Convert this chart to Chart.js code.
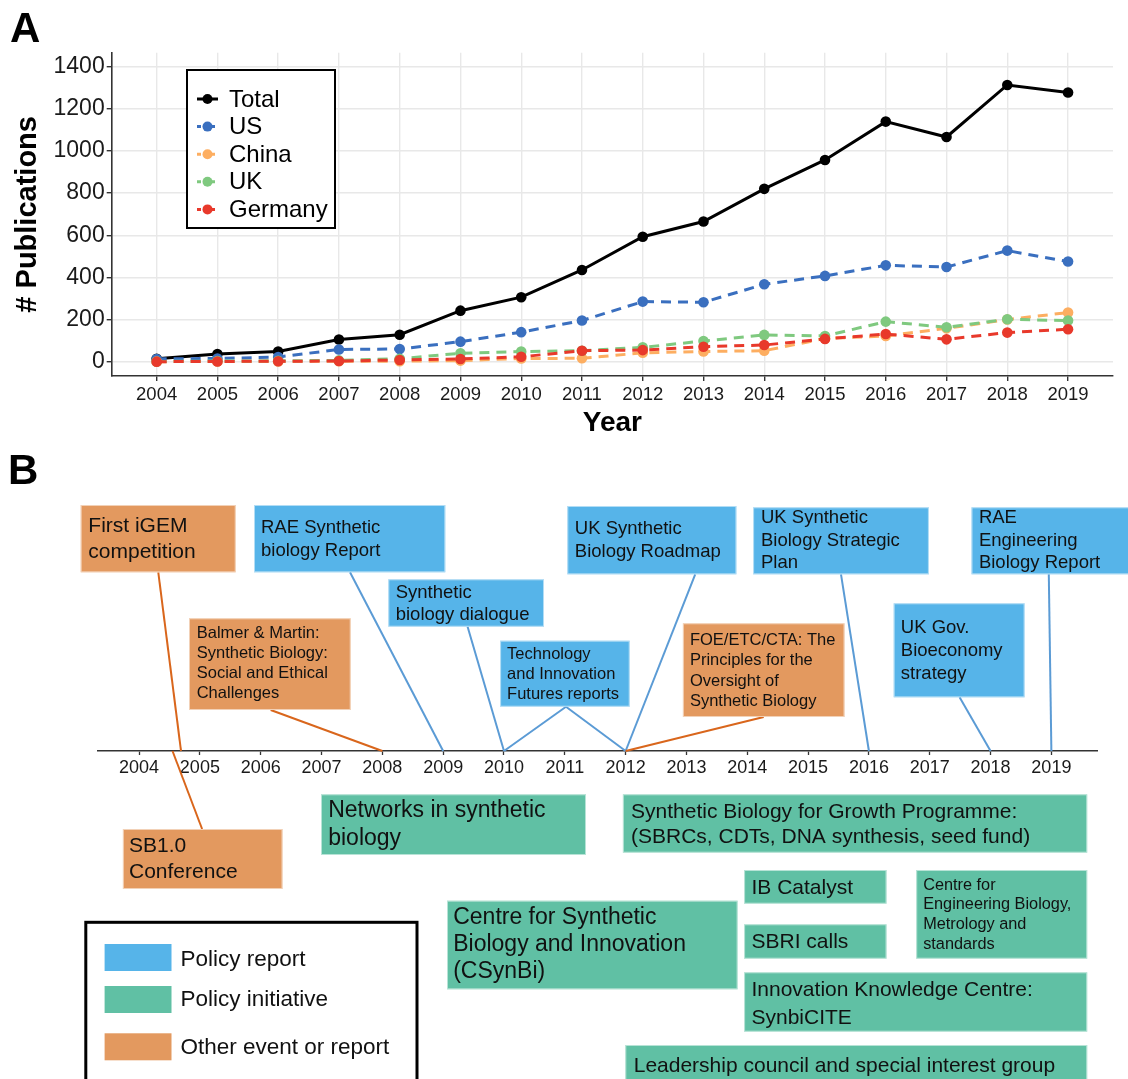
<!DOCTYPE html>
<html>
<head>
<meta charset="utf-8">
<title>Synthetic biology publications and UK policy timeline</title>
<script src="https://cdn.jsdelivr.net/npm/chart.js@4.4.1/dist/chart.umd.min.js"></script>
<style>
  html, body { margin: 0; padding: 0; background: #fff; }
  #wrap { position: relative; width: 1128px; height: 1079px; overflow: hidden; background: #fff; }
  canvas { position: absolute; left: 0; }
  #pubs { top: 0; }
  #timeline { top: 440px; }
</style>
</head>
<body>
<div id="wrap">
  <canvas id="pubs" width="1128" height="440"></canvas>
  <canvas id="timeline" width="1128" height="639"></canvas>
</div>
<script>
// ---------- Panel A data: publications per year ----------
const years = [2004, 2005, 2006, 2007, 2008, 2009, 2010, 2011, 2012, 2013, 2014, 2015, 2016, 2017, 2018, 2019];
const totalPubs   = [14, 36, 48, 105, 128, 242, 306, 435, 593, 665, 820, 957, 1139, 1066, 1313, 1277];
const usPubs      = [13, 15, 22, 58, 60, 95, 140, 195, 285, 282, 367, 407, 457, 449, 527, 475];
const chinaPubs   = [0, 1, 1, 2, 2, 5, 15, 16, 42, 48, 52, 110, 122, 158, 200, 233];
const ukPubs      = [1, 3, 4, 6, 14, 40, 48, 52, 68, 98, 127, 122, 190, 163, 201, 195];
const germanyPubs = [0, 1, 2, 3, 8, 13, 23, 52, 55, 71, 79, 108, 131, 106, 138, 154];
const seriesNames = ['Total', 'US', 'China', 'UK', 'Germany'];
const yTickValues = [0, 200, 400, 600, 800, 1000, 1200, 1400];

// ---------- Panel B data: timeline events ----------
const eventLines = [
  ['First iGEM', 'competition'],
  ['RAE Synthetic', 'biology Report'],
  ['Synthetic', 'biology dialogue'],
  ['Technology', 'and Innovation', 'Futures reports'],
  ['UK Synthetic', 'Biology Roadmap'],
  ['FOE/ETC/CTA: The', 'Principles for the', 'Oversight of', 'Synthetic Biology'],
  ['UK Synthetic', 'Biology Strategic', 'Plan'],
  ['UK Gov.', 'Bioeconomy', 'strategy'],
  ['RAE', 'Engineering', 'Biology Report'],
  ['Balmer & Martin:', 'Synthetic Biology:', 'Social and Ethical', 'Challenges'],
  ['SB1.0', 'Conference'],
  ['Networks in synthetic', 'biology'],
  ['Synthetic Biology for Growth Programme:', '(SBRCs, CDTs, DNA synthesis, seed fund)'],
  ['IB Catalyst'],
  ['SBRI calls'],
  ['Centre for', 'Engineering Biology,', 'Metrology and', 'standards'],
  ['Centre for Synthetic', 'Biology and Innovation', '(CSynBi)'],
  ['Innovation Knowledge Centre:', 'SynbiCITE'],
  ['Leadership council and special interest group']
];
const eventKinds = ['other', 'report', 'report', 'report', 'report', 'other', 'report', 'report', 'report',
                    'other', 'other', 'initiative', 'initiative', 'initiative', 'initiative', 'initiative',
                    'initiative', 'initiative', 'initiative'];
// year(s) on the timeline each event points to
const eventYears = [[2004.69], [2009], [2010], [2010, 2012], [2012], [2012], [2016], [2018], [2019],
                    [2008], [2004.55], [], [], [], [], [], [], [], []];
const timelineYears = years;
const legendKinds  = ['report', 'initiative', 'other'];
const legendLabels = ['Policy report', 'Policy initiative', 'Other event or report'];

// ---------- Styles and layout ----------
const FONT = '"Liberation Sans", Arial, Helvetica, sans-serif';
Chart.defaults.font.family = FONT;

const seriesStyle = [
  { color: '#000000', dash: [],      order: 4 },
  { color: '#3a6fbf', dash: [10, 7], order: 3 },
  { color: '#fdae61', dash: [10, 7], order: 2 },
  { color: '#7fc97f', dash: [10, 7], order: 1 },
  { color: '#e8392b', dash: [10, 7], order: 0 }
];
const kindFill = { report: '#56b4e9', initiative: '#60c0a4', other: '#e3995f' };
const kindLeader = { report: '#5b9bd5', initiative: '#5b9bd5', other: '#d9661c' };

// legend box of panel A
const pubsLegendBox = { x: 187, y: 70, w: 148, h: 158, row0: 99, rowGap: 27.6, lineX0: 197, lineX1: 218, dotX: 207.5, textX: 229 };

// panel B box geometry, page coordinates: [x, y, w, h]
const eventBoxes = [
  [80.7, 505, 155, 67.3], [254, 505, 191.3, 67.3], [388.3, 579.3, 155.7, 47.4], [500.1, 640.7, 129.6, 66],
  [567.3, 506, 169.1, 68.3], [682.9, 623.3, 161.6, 93.7], [753.1, 507.3, 175.8, 67], [893.7, 603.3, 130.9, 94],
  [971.5, 507.3, 160, 67], [189, 618.3, 161.7, 91.7], [122.9, 829, 159.6, 60], [321, 794.3, 265, 60.7],
  [622.9, 794.3, 464.3, 58.4], [744.1, 870, 142.4, 33.7], [744.1, 924.3, 142.4, 34.4], [916.2, 870, 171, 88.7],
  [447, 900.7, 290.6, 88.6], [744.1, 972.3, 343.1, 59.4], [625.3, 1045, 461.9, 50]
];
// text placement: [left x, first line centre y, line gap, font size]
const eventTextPos = [
  [88.3, 526, 26.7, 21], [261, 528.3, 22.7, 18.5], [395.7, 592.7, 22.3, 18.5], [507.1, 654, 20, 16.5],
  [574.8, 529.3, 22.7, 18.5], [689.9, 640.7, 20.2, 16.5], [761, 517.7, 22.8, 18.5], [900.8, 628.3, 23, 18.5],
  [978.9, 517.7, 22.8, 18.5], [196.7, 633.3, 20.2, 16.5], [129, 846.7, 26, 21], [328.2, 810.7, 27.6, 23],
  [631, 812.7, 25, 21], [751.5, 888.3, 0, 21], [751.5, 942.7, 0, 21], [923.2, 885.3, 19.6, 16.3],
  [453.2, 917.7, 27, 23], [751.5, 990.7, 27.6, 21], [633.7, 1066, 0, 21]
];
// where each leader line leaves its box
const leaderStart = [
  [158.3, 572.3], [350, 572.3], [467.6, 626.7], [566, 706.7], [695.2, 574.3], [763.7, 717], [841, 574.3],
  [959.6, 697.3], [1048.8, 574.3], [270.7, 710], [202.1, 829], null, null, null, null, null, null, null, null
];
const timelineLegendBox = { x: 85.8, y: 922.3, w: 331.2, h: 180, swX: 104.6, swW: 66.9,
  swY: [944, 986, 1033.3], swH: 27, textX: 180.4, textY: [959.3, 999.3, 1047.7], size: 22.5 };
const PANEL_B_TOP = 440;
const TIMELINE_AXIS_Y = 751;

// ---------- Panel A ----------
const seriesValues = [totalPubs, usPubs, chinaPubs, ukPubs, germanyPubs];

const pubsLegend = {
  id: 'pubsLegend',
  afterDraw(chart) {
    const ctx = chart.ctx, L = pubsLegendBox;
    ctx.save();
    ctx.fillStyle = '#000';
    ctx.font = 'bold 42px ' + FONT;
    ctx.textAlign = 'left';
    ctx.textBaseline = 'alphabetic';
    ctx.fillText('A', 10, 42);

    ctx.fillStyle = '#fff';
    ctx.fillRect(L.x, L.y, L.w, L.h);
    ctx.lineWidth = 2;
    ctx.strokeStyle = '#000';
    ctx.strokeRect(L.x, L.y, L.w, L.h);
    chart.data.datasets.forEach((ds, i) => {
      const y = L.row0 + i * L.rowGap;
      ctx.strokeStyle = ds.borderColor;
      ctx.lineWidth = 3;
      ctx.setLineDash(ds.borderDash.length ? [4, 3] : []);
      ctx.beginPath();
      ctx.moveTo(L.lineX0, y);
      ctx.lineTo(L.lineX1, y);
      ctx.stroke();
      ctx.setLineDash([]);
      ctx.fillStyle = ds.borderColor;
      ctx.beginPath();
      ctx.arc(L.dotX, y, 5, 0, Math.PI * 2);
      ctx.fill();
      ctx.fillStyle = '#000';
      ctx.font = '24px ' + FONT;
      ctx.textBaseline = 'middle';
      ctx.fillText(ds.label, L.textX, y + 1);
    });
    ctx.restore();
  }
};

new Chart(document.getElementById('pubs'), {
  type: 'line',
  data: {
    datasets: seriesNames.map((name, i) => ({
      label: name,
      data: years.map((yr, k) => ({ x: yr, y: seriesValues[i][k] })),
      borderColor: seriesStyle[i].color,
      backgroundColor: seriesStyle[i].color,
      pointBackgroundColor: seriesStyle[i].color,
      pointBorderWidth: 0,
      pointRadius: 5.3,
      borderWidth: 3,
      borderDash: seriesStyle[i].dash,
      order: seriesStyle[i].order,
      tension: 0,
      fill: false
    }))
  },
  options: {
    responsive: false,
    devicePixelRatio: 1,
    animation: false,
    events: [],
    layout: { padding: { left: 0, right: 15, top: 52.7, bottom: 0 } },
    plugins: { legend: { display: false }, tooltip: { enabled: false } },
    scales: {
      x: {
        type: 'linear',
        min: 2003.26,
        max: 2019.74,
        afterBuildTicks: s => { s.ticks = years.map(v => ({ value: v })); },
        afterFit: s => { s.height = 64; },
        grid: { color: '#e8e8e8', lineWidth: 1.4, tickColor: '#333', tickLength: 5 },
        border: { display: true, color: '#333', width: 1.6 },
        ticks: { autoSkip: false, maxRotation: 0, padding: 3, color: '#1a1a1a',
                 font: { size: 18.5 }, callback: v => String(v) },
        title: { display: true, text: 'Year', color: '#000',
                 font: { size: 28, weight: 'bold' }, padding: { top: 0, bottom: 0 } }
      },
      y: {
        type: 'linear',
        min: -68,
        max: 1466,
        afterBuildTicks: s => { s.ticks = yTickValues.map(v => ({ value: v })); },
        afterFit: s => { s.width = 111.7; },
        grid: { color: '#e8e8e8', lineWidth: 1.4, tickColor: '#333', tickLength: 5 },
        border: { display: true, color: '#333', width: 1.6 },
        ticks: { padding: 2, color: '#1a1a1a', font: { size: 23 }, callback: v => String(v) },
        title: { display: true, text: '# Publications', color: '#000',
                 font: { size: 29, weight: 'bold' }, padding: { top: 11, bottom: 0 } }
      }
    }
  },
  plugins: [pubsLegend]
});

// ---------- Panel B ----------
const anchorPoints = [];
eventYears.forEach((list, i) => list.forEach(yr => anchorPoints.push({ x: yr, y: 0, ev: i })));

function drawLines(ctx, lines, pos) {
  const [tx, ty, gap, size] = pos;
  ctx.font = size + 'px ' + FONT;
  ctx.fillStyle = '#111';
  ctx.textAlign = 'left';
  ctx.textBaseline = 'middle';
  lines.forEach((t, k) => ctx.fillText(t, tx, ty + k * gap));
}

const timelinePlugin = {
  id: 'timelineBoxes',
  afterDraw(chart) {
    const ctx = chart.ctx;
    const xs = chart.scales.x, ys = chart.scales.y;
    ctx.save();
    ctx.translate(0, -PANEL_B_TOP);

    ctx.fillStyle = '#000';
    ctx.font = 'bold 42px ' + FONT;
    ctx.textBaseline = 'alphabetic';
    ctx.fillText('B', 8, 484);

    // leader lines from boxes to their years on the axis
    const meta = chart.getDatasetMeta(0);
    meta.data.forEach((pt, j) => {
      const src = anchorPoints[j];
      const from = leaderStart[src.ev];
      if (!from) return;
      ctx.strokeStyle = kindLeader[eventKinds[src.ev]];
      ctx.lineWidth = 2;
      ctx.beginPath();
      ctx.moveTo(from[0], from[1]);
      ctx.lineTo(xs.getPixelForValue(src.x), ys.getPixelForValue(src.y) + PANEL_B_TOP);
      ctx.stroke();
    });

    // boxes and their text
    eventBoxes.forEach((b, i) => {
      ctx.fillStyle = kindFill[eventKinds[i]];
      ctx.fillRect(b[0], b[1], b[2], b[3]);
      ctx.strokeStyle = 'rgba(255,255,255,0.55)';
      ctx.lineWidth = 1;
      ctx.strokeRect(b[0] + 0.5, b[1] + 0.5, b[2] - 1, b[3] - 1);
      drawLines(ctx, eventLines[i], eventTextPos[i]);
    });

    // key
    const L = timelineLegendBox;
    ctx.fillStyle = '#fff';
    ctx.fillRect(L.x, L.y, L.w, L.h);
    ctx.lineWidth = 3;
    ctx.strokeStyle = '#000';
    ctx.strokeRect(L.x, L.y, L.w, L.h);
    legendKinds.forEach((k, i) => {
      ctx.fillStyle = kindFill[k];
      ctx.fillRect(L.swX, L.swY[i], L.swW, L.swH);
      ctx.fillStyle = '#111';
      ctx.font = L.size + 'px ' + FONT;
      ctx.textBaseline = 'middle';
      ctx.fillText(legendLabels[i], L.textX, L.textY[i]);
    });
    ctx.restore();
  }
};

new Chart(document.getElementById('timeline'), {
  type: 'scatter',
  data: { datasets: [{ data: anchorPoints, pointRadius: 0, pointHoverRadius: 0, showLine: false }] },
  options: {
    responsive: false,
    devicePixelRatio: 1,
    animation: false,
    events: [],
    layout: { padding: { left: 97.7, right: 31, top: 0, bottom: 0 } },
    plugins: { legend: { display: false }, tooltip: { enabled: false } },
    scales: {
      x: {
        type: 'linear',
        min: 2003.32,
        max: 2019.75,
        afterBuildTicks: s => { s.ticks = timelineYears.map(v => ({ value: v })); },
        afterFit: s => { s.height = 639 - (TIMELINE_AXIS_Y - PANEL_B_TOP); },
        grid: { display: true, drawOnChartArea: false, tickLength: 4, tickColor: '#333', tickWidth: 1.3 },
        border: { display: true, color: '#333', width: 1.6 },
        ticks: { autoSkip: false, maxRotation: 0, padding: 2, color: '#1a1a1a',
                 font: { size: 18 }, callback: v => String(v) }
      },
      y: { display: false, min: 0, max: 1 }
    }
  },
  plugins: [timelinePlugin]
});
</script>
</body>
</html>
